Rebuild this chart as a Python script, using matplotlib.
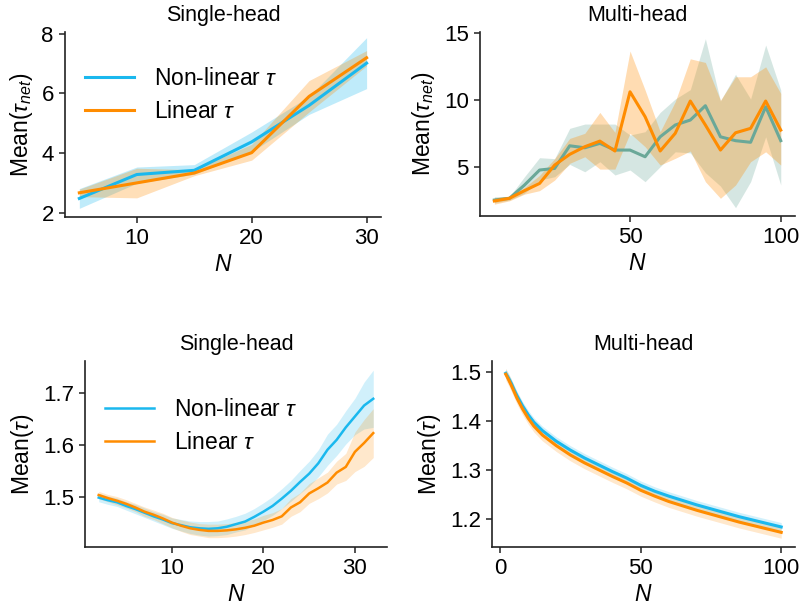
import matplotlib
matplotlib.use("Agg")
import matplotlib.pyplot as plt
import numpy as np

plt.rcParams['font.family'] = ['Liberation Sans', 'DejaVu Sans']
plt.rcParams['mathtext.fontset'] = 'custom'
plt.rcParams['mathtext.rm'] = 'Liberation Sans'
plt.rcParams['mathtext.it'] = 'Liberation Sans:italic'
plt.rcParams['mathtext.bf'] = 'Liberation Sans:bold'

BLUE = '#1ab8ee'
ORANGE = '#ff8c00'
TEAL = '#6aa898'

# ---------------- Panel A: Single-head, Mean(tau_net) ----------------
a_N = [5, 10, 15, 20, 25, 30]
a_nl = [2.49, 3.29, 3.43, 4.38, 5.60, 7.01]
a_nl_lo = [2.16, 3.00, 3.30, 4.05, 5.30, 6.16]
a_nl_hi = [2.82, 3.54, 3.62, 4.71, 5.90, 7.86]
a_lin = [2.68, 3.01, 3.34, 4.02, 5.90, 7.19]
a_lin_lo = [2.55, 2.51, 3.25, 3.77, 5.38, 6.92]
a_lin_hi = [2.80, 3.50, 3.45, 4.30, 6.43, 7.43]

# ---------------- Panel B: Multi-head, Mean(tau_net) ----------------
b_N = [5, 10, 15, 20, 25, 30, 35, 40, 45, 50, 55, 60, 65, 70, 75, 80, 85, 90, 95, 100]
b_nl = [2.56, 2.69, 3.68, 4.80, 4.92, 6.61, 6.46, 6.79, 6.29, 6.29,
        5.79, 7.28, 8.16, 8.53, 9.60, 7.28, 6.99, 6.87, 9.52, 6.99]
b_nl_lo = [2.35, 2.55, 3.06, 4.05, 4.30, 5.22, 4.67, 5.42, 4.43, 4.80,
           3.93, 5.05, 6.16, 6.08, 4.60, 3.60, 1.99, 3.93, 7.28, 3.68]
b_nl_hi = [2.80, 2.80, 4.30, 5.72, 5.65, 7.91, 8.23, 8.23, 8.23, 7.41,
           7.66, 9.10, 10.10, 10.80, 14.60, 9.95, 11.94, 10.10, 14.13, 10.77]
b_lin = [2.49, 2.69, 3.26, 3.80, 5.17, 5.97, 6.54, 6.96, 6.22, 10.64,
         8.78, 6.22, 7.54, 9.95, 8.16, 6.29, 7.58, 7.91, 9.95, 7.78]
b_lin_lo = [2.25, 2.50, 3.00, 3.26, 4.05, 5.30, 5.79, 4.87, 4.87, 7.54,
            6.54, 5.17, 5.67, 6.22, 3.93, 2.69, 3.68, 5.42, 6.16, 5.17]
b_lin_hi = [2.75, 2.85, 3.50, 4.40, 5.65, 7.16, 7.54, 9.10, 7.61, 13.68,
            10.77, 7.66, 9.90, 13.10, 12.83, 10.00, 11.76, 11.76, 12.50, 10.52]

# ---------------- Panel C: Single-head, Mean(tau) ----------------
c_N = list(range(2, 33))
c_nl = [1.498, 1.493, 1.489, 1.482, 1.476, 1.469, 1.462, 1.456, 1.449, 1.445,
        1.441, 1.439, 1.438, 1.439, 1.442, 1.447, 1.452, 1.461, 1.471, 1.482,
        1.496, 1.511, 1.528, 1.544, 1.564, 1.590, 1.609, 1.633, 1.654, 1.675, 1.688]
c_nl_err = [0.008, 0.008, 0.008, 0.008, 0.009, 0.009, 0.009, 0.010, 0.010, 0.011,
            0.012, 0.013, 0.014, 0.014, 0.015, 0.015, 0.016, 0.016, 0.017, 0.018,
            0.019, 0.020, 0.022, 0.024, 0.026, 0.030, 0.030, 0.032, 0.035, 0.045, 0.055]
c_lin = [1.503, 1.497, 1.492, 1.486, 1.479, 1.471, 1.465, 1.458, 1.450, 1.444,
         1.439, 1.436, 1.434, 1.434, 1.435, 1.437, 1.440, 1.444, 1.450, 1.455,
         1.462, 1.479, 1.489, 1.506, 1.516, 1.527, 1.546, 1.557, 1.586, 1.603, 1.622]
c_lin_err = [0.007, 0.007, 0.008, 0.008, 0.008, 0.009, 0.009, 0.010, 0.010, 0.011,
             0.012, 0.012, 0.013, 0.013, 0.013, 0.013, 0.013, 0.013, 0.014, 0.014,
             0.015, 0.017, 0.018, 0.019, 0.020, 0.020, 0.022, 0.026, 0.038, 0.045, 0.047]

# ---------------- Panel D: Multi-head, Mean(tau) ----------------
d_N = [2, 3, 4, 5, 6, 8, 10, 12, 15, 20, 25, 30, 35, 40, 45, 50,
       55, 60, 65, 70, 75, 80, 85, 90, 95, 100]
d_nl = [1.497, 1.487, 1.476, 1.463, 1.451, 1.430, 1.412, 1.397, 1.380, 1.358,
        1.340, 1.324, 1.310, 1.296, 1.283, 1.268, 1.256, 1.246, 1.237, 1.228,
        1.220, 1.212, 1.204, 1.197, 1.190, 1.183]
d_lin = [1.495, 1.484, 1.472, 1.459, 1.446, 1.424, 1.405, 1.389, 1.371, 1.349,
         1.330, 1.314, 1.300, 1.286, 1.273, 1.258, 1.246, 1.235, 1.226, 1.217,
         1.209, 1.201, 1.193, 1.186, 1.179, 1.172]
d_nl_err = [0.009] * 26
d_lin_err = [0.012] * 26


fig = plt.figure(figsize=(8.01, 6.11), dpi=100)

TICKF = 16
TF = 15.5
LF = 16.5
LEGF = 16.5


def style(ax):
    for s in ['top', 'right']:
        ax.spines[s].set_visible(False)
    for s in ['left', 'bottom']:
        ax.spines[s].set_linewidth(1.2)
        ax.spines[s].set_color('#222222')
    ax.tick_params(labelsize=TICKF, length=4, width=1.1, color='#222222', pad=4)


def labels(ax, title, ylabel):
    ax.set_title(title, fontsize=TF, pad=8)
    ax.set_xlabel('$N$', fontsize=LF, labelpad=3)
    ax.set_ylabel(ylabel, fontsize=LF, labelpad=5)


# A
axA = fig.add_axes([0.0811, 0.6448, 0.3945, 0.3028])
axA.fill_between(a_N, a_nl_lo, a_nl_hi, color=BLUE, alpha=0.28, lw=0)
axA.fill_between(a_N, a_lin_lo, a_lin_hi, color=ORANGE, alpha=0.28, lw=0)
axA.plot(a_N, a_nl, color=BLUE, lw=2.2, label=r'Non-linear $\tau$')
axA.plot(a_N, a_lin, color=ORANGE, lw=2.2, label=r'Linear $\tau$')
axA.set_xlim(3.75, 31.25)
axA.set_ylim(1.87, 8.05)
axA.set_xticks([10, 20, 30])
axA.set_yticks([2, 4, 6, 8])
labels(axA, 'Single-head', r'Mean($\tau_{net}$)')
style(axA)
axA.legend(loc='upper left', bbox_to_anchor=(0.063, 0.81), frameon=False,
           fontsize=LEGF, handlelength=2.15, borderpad=0, borderaxespad=0,
           labelspacing=0.42, handletextpad=0.85)

# B
axB = fig.add_axes([0.5993, 0.6465, 0.3933, 0.3011])
axB.fill_between(b_N, b_nl_lo, b_nl_hi, color=TEAL, alpha=0.28, lw=0)
axB.fill_between(b_N, b_lin_lo, b_lin_hi, color=ORANGE, alpha=0.3, lw=0)
axB.plot(b_N, b_nl, color=TEAL, lw=2.2)
axB.plot(b_N, b_lin, color=ORANGE, lw=2.2)
axB.set_xlim(0.25, 104.75)
axB.set_ylim(1.37, 15.1)
axB.set_xticks([50, 100])
axB.set_yticks([5, 10, 15])
labels(axB, 'Multi-head', r'Mean($\tau_{net}$)')
style(axB)

# C
axC = fig.add_axes([0.1061, 0.1047, 0.377, 0.3044])
axC.fill_between(c_N, np.array(c_nl) - np.array(c_nl_err), np.array(c_nl) + np.array(c_nl_err),
                 color=BLUE, alpha=0.2, lw=0)
axC.fill_between(c_N, np.array(c_lin) - np.array(c_lin_err), np.array(c_lin) + np.array(c_lin_err),
                 color=ORANGE, alpha=0.2, lw=0)
axC.plot(c_N, c_nl, color=BLUE, lw=1.8, label=r'Non-linear $\tau$')
axC.plot(c_N, c_lin, color=ORANGE, lw=1.8, label=r'Linear $\tau$')
axC.set_xlim(0.5, 33.5)
axC.set_ylim(1.403, 1.7605)
axC.set_xticks([10, 20, 30])
axC.set_yticks([1.5, 1.6, 1.7])
labels(axC, 'Single-head', r'Mean($\tau$)')
style(axC)
axC.legend(loc='upper left', bbox_to_anchor=(0.066, 0.80), frameon=False,
           fontsize=LEGF, handlelength=2.15, borderpad=0, borderaxespad=0,
           labelspacing=0.42, handletextpad=0.85)

# D
axD = fig.add_axes([0.6142, 0.1047, 0.3783, 0.3044])
axD.fill_between(d_N, np.array(d_nl) - np.array(d_nl_err), np.array(d_nl) + np.array(d_nl_err),
                 color=BLUE, alpha=0.2, lw=0)
axD.fill_between(d_N, np.array(d_lin) - np.array(d_lin_err), np.array(d_lin) + np.array(d_lin_err),
                 color=ORANGE, alpha=0.2, lw=0)
axD.plot(d_N, d_nl, color=BLUE, lw=2.2)
axD.plot(d_N, d_lin, color=ORANGE, lw=2.2)
axD.set_xlim(-2.9, 104.9)
axD.set_ylim(1.142, 1.522)
axD.set_xticks([0, 50, 100])
axD.set_yticks([1.2, 1.3, 1.4, 1.5])
labels(axD, 'Multi-head', r'Mean($\tau$)')
style(axD)

fig.savefig('out.png', dpi=100)
